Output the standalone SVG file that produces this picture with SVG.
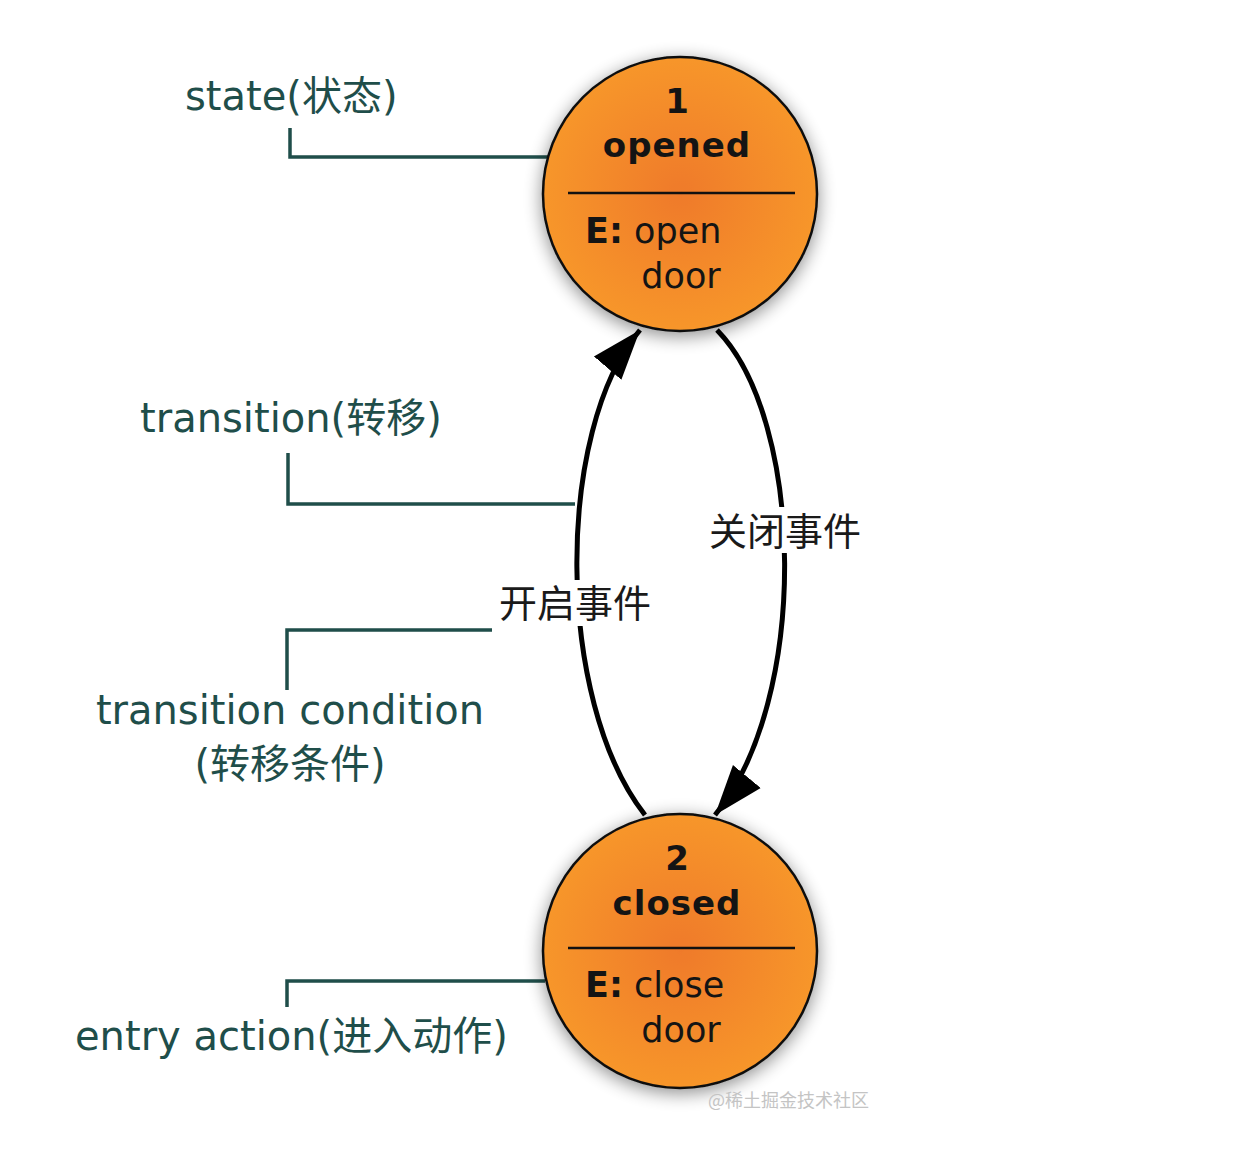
<svg xmlns="http://www.w3.org/2000/svg" width="1250" height="1158" viewBox="0 0 1250 1158">
<style>
.ann{font-family:"DejaVu Sans","Noto Sans CJK SC",sans-serif;font-size:40px;fill:#1f4e4a}
.lead{fill:none;stroke:#1f4e4a;stroke-width:3.5}
.node{fill:url(#og);stroke:#111;stroke-width:2.5;filter:url(#sh)}
.div{stroke:#111;stroke-width:2.5}
.nt{font-family:"DejaVu Sans",sans-serif;font-size:35px;fill:#141414}
.b{font-weight:bold}
.nb{font-family:"DejaVu Sans",sans-serif;font-size:34px;font-weight:bold;fill:#141414}
.edge{fill:none;stroke:#000;stroke-width:5}
.el{font-family:"Noto Sans CJK SC",sans-serif;font-size:38px;fill:#1a1a1a}
.wm{font-family:"Noto Sans CJK SC",sans-serif;font-size:18px;fill:#c4c4c4}
</style>
<defs>
<radialGradient id="og" cx="0.5" cy="0.5" r="0.5">
<stop offset="0" stop-color="#ef7a2c"/>
<stop offset="1" stop-color="#f7962a"/>
</radialGradient>
<filter id="sh" x="-30%" y="-30%" width="160%" height="160%">
<feGaussianBlur in="SourceAlpha" stdDeviation="9"/>
<feOffset dx="0" dy="4" result="b"/>
<feComponentTransfer><feFuncA type="linear" slope="0.45"/></feComponentTransfer>
<feMerge><feMergeNode/><feMergeNode in="SourceGraphic"/></feMerge>
</filter>
<marker id="ah" markerUnits="userSpaceOnUse" markerWidth="54" markerHeight="40" refX="50" refY="20" orient="auto">
<path d="M0,2 L50,20 L0,38 z" fill="#000"/>
</marker>
</defs>
<rect width="1250" height="1158" fill="#fff"/>

<g id="connectors">
<path class="edge" d="M645,815 C555,700 555,430 640,330" marker-end="url(#ah)"/>
<path class="edge" d="M717,330 C805,420 810,700 715,815" marker-end="url(#ah)"/>
<rect x="704" y="507" width="162" height="46" fill="#fff"/>
<text class="el" x="785" y="545" text-anchor="middle">关闭事件</text>
<rect x="494" y="580" width="162" height="46" fill="#fff"/>
<text class="el" x="575" y="617" text-anchor="middle">开启事件</text>
</g>

<g id="annotations">
<path class="lead" d="M290,128 V157 H550"/>
<text class="ann" x="185" y="110">state(状态)</text>
<path class="lead" d="M288,453 V504 H575"/>
<text class="ann" x="140" y="432">transition(转移)</text>
<path class="lead" d="M492,630 H287 V690"/>
<text class="ann" x="290" y="724" text-anchor="middle">transition condition</text>
<text class="ann" x="290" y="778" text-anchor="middle">(转移条件)</text>
<path class="lead" d="M545,981 H287 V1007"/>
<text class="ann" x="75" y="1050">entry action(进入动作)</text>
</g>

<g id="state-opened">
<circle class="node" cx="680" cy="194" r="137"/>
<line class="div" x1="568" y1="193" x2="795" y2="193"/>
<text class="nb" x="677" y="113" text-anchor="middle">1</text>
<text class="nb" x="677" y="157" text-anchor="middle" letter-spacing="1">opened</text>
<text class="nt" x="585" y="243"><tspan class="b">E:</tspan> open</text>
<text class="nt" x="681" y="288" text-anchor="middle">door</text>
</g>

<g id="state-closed">
<circle class="node" cx="680" cy="951" r="137"/>
<line class="div" x1="568" y1="948" x2="795" y2="948"/>
<text class="nb" x="677" y="870" text-anchor="middle">2</text>
<text class="nb" x="677" y="915" text-anchor="middle" letter-spacing="1">closed</text>
<text class="nt" x="585" y="997"><tspan class="b">E:</tspan> close</text>
<text class="nt" x="681" y="1042" text-anchor="middle">door</text>
</g>

<text class="wm" x="708" y="1107">@稀土掘金技术社区</text>
</svg>
